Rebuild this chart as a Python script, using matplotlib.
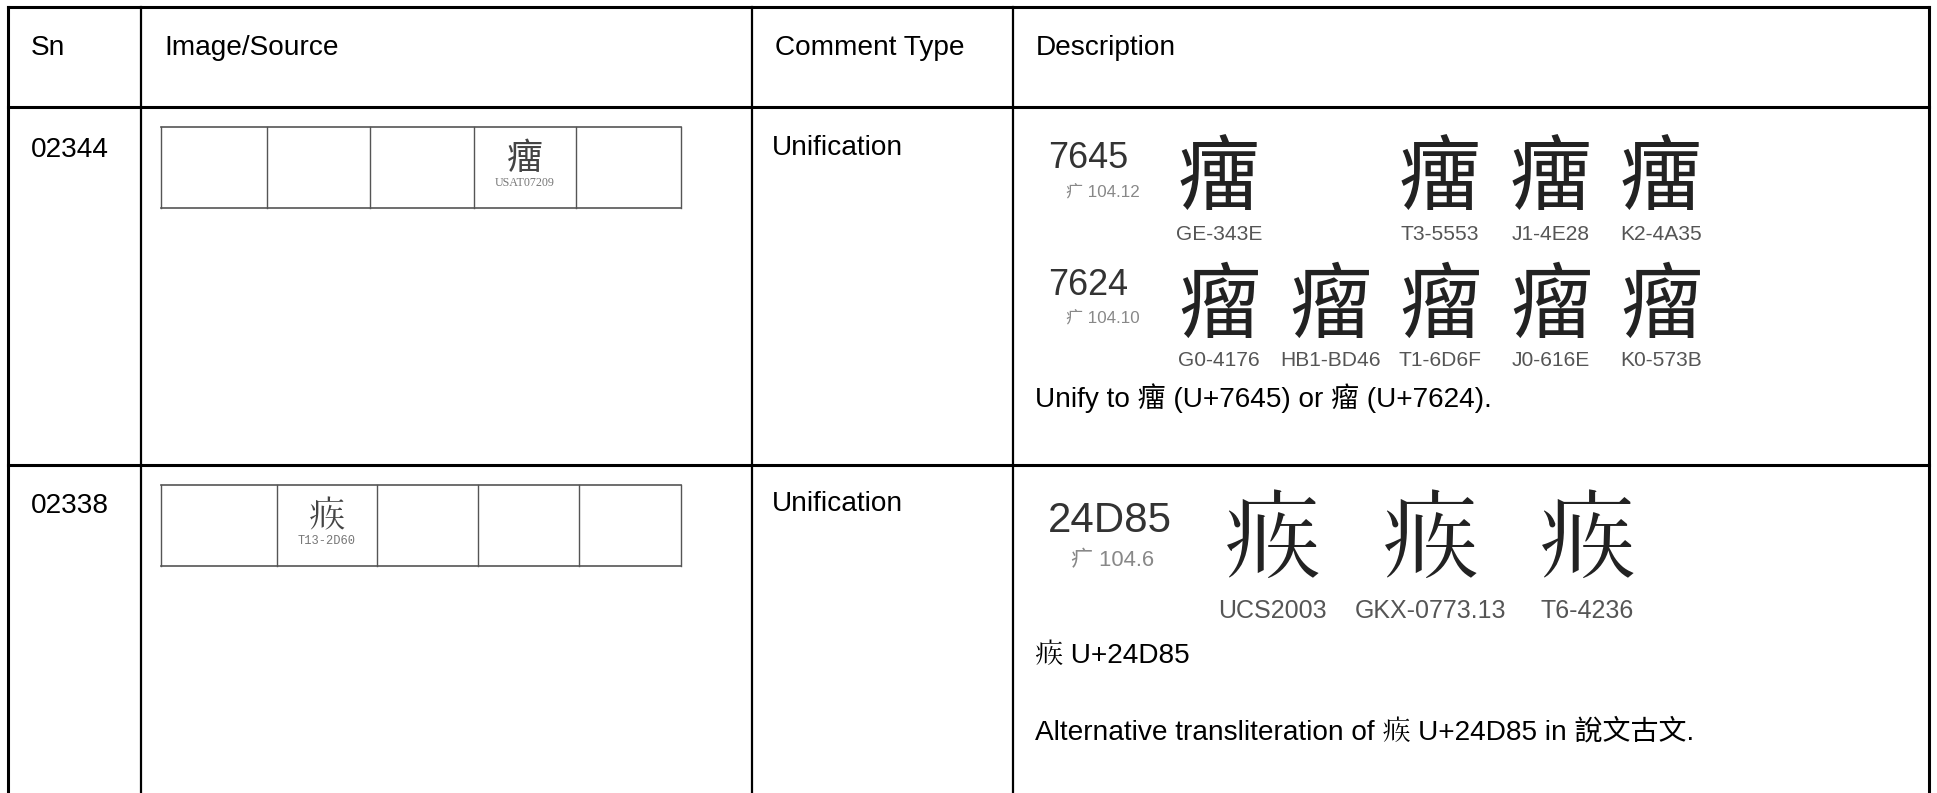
"""Unification comment table (two rows) redrawn with matplotlib"""
import matplotlib
matplotlib.use("Agg")
import matplotlib.pyplot as plt

## Table content
headers = ["Sn", "Image/Source", "Comment Type", "Description"]
sn_values = ["02344", "02338"]
comment_types = ["Unification", "Unification"]
source_glyphs = ["癅", chr(0x24D85)]
source_labels = ["USAT07209", "T13-2D60"]
source_filled_cell = [3, 1]

# row 1 description: two code points with their regional glyphs
row1_codes = ["7645", "7624"]
row1_radicals = ["疒 104.12", "疒 104.10"]
row1_chars = ["癅", "瘤"]
row1_sources = [
    ["GE-343E", "", "T3-5553", "J1-4E28", "K2-4A35"],
    ["G0-4176", "HB1-BD46", "T1-6D6F", "J0-616E", "K0-573B"],
]
row1_note = "Unify to 癅 (U+7645) or 瘤 (U+7624)."

# row 2 description
row2_code = "24D85"
row2_radical = "疒 104.6"
row2_char = chr(0x24D85)
row2_sources = ["UCS2003", "GKX-0773.13", "T6-4236"]
row2_notes = [
    chr(0x24D85) + " U+24D85",
    "Alternative transliteration of " + chr(0x24D85) + " U+24D85 in 說文古文.",
]

## Layout (pixels, figure is 1937 x 793 at 100 dpi)
W, H = 1937, 793
col_x = [8, 141, 752, 1013, 1929]
row_y = [7, 107, 465, 800]
box_x = [[161, 267, 370, 474, 576, 681], [161, 277, 377, 478, 579, 681]]
box_y = [(127, 208), (485, 566)]
row1_slot_x = [1219, 1330, 1440, 1551, 1661]
row2_slot_x = [1272, 1430, 1587]

# Cactus Classical Serif is the only installed family with U+24D85
SANS = ["Liberation Sans", "Noto Sans CJK TC", "Cactus Classical Serif", "DejaVu Sans"]
CJK = ["Noto Sans CJK TC", "Cactus Classical Serif", "DejaVu Sans"]
NARROW = ["Liberation Sans Narrow", "Liberation Sans", "DejaVu Sans"]


def px(size):
    """pixel font size to points at 100 dpi"""
    return size * 0.72


fig = plt.figure(figsize=(W / 100, H / 100), dpi=100)
ax = fig.add_axes([0, 0, 1, 1])
ax.set_xlim(0, W)
ax.set_ylim(H, 0)
ax.axis("off")

## Grid lines
for y in row_y[:3]:
    ax.plot([col_x[0], col_x[-1]], [y, y], color="black", lw=2.2, solid_capstyle="projecting")
for i, x in enumerate(col_x):
    lw = 2.2 if i in (0, len(col_x) - 1) else 1.6
    ax.plot([x, x], [row_y[0], row_y[-1]], color="black", lw=lw)

## Header
for x, label in zip(col_x[:-1], headers):
    ax.text(x + 23, 55, label, family=SANS, fontsize=px(28), va="baseline", ha="left")

## Rows: Sn, source box, comment type
baselines = [157, 513]
for r in range(2):
    ax.text(col_x[0] + 23, baselines[r], sn_values[r], family=SANS, fontsize=px(28), va="baseline")
    ax.text(col_x[2] + 20, baselines[r] - 2, comment_types[r], family=SANS, fontsize=px(28), va="baseline")
    xs = box_x[r]
    y0, y1 = box_y[r]
    ax.plot([xs[0], xs[-1]], [y0, y0], color="#555555", lw=1.2)
    ax.plot([xs[0], xs[-1]], [y1, y1], color="#555555", lw=1.2)
    for x in xs:
        ax.plot([x, x], [y0, y1], color="#555555", lw=1.0)
    c = source_filled_cell[r]
    cx = (xs[c] + xs[c + 1]) / 2
    ax.text(cx, y0 + 32, source_glyphs[r], family=CJK, fontsize=px(36), color="#444444",
            ha="center", va="center")
    label_family = ["Liberation Serif", "DejaVu Serif"] if r == 0 else ["Liberation Mono", "DejaVu Sans Mono"]
    ax.text(cx, y0 + 56, source_labels[r], family=label_family, fontsize=px(12), color="#777777",
            ha="center", va="center")

## Description, row 1
code_base = [168, 295]
radical_base = [197, 323]
glyph_center = [180, 307]
label_center = [235, 360]
for k in range(2):
    ax.text(1048, code_base[k], row1_codes[k], family=SANS, fontsize=px(36), color="#333333", va="baseline")
    ax.text(1066, radical_base[k], row1_radicals[k], family=SANS, fontsize=px(17), color="#888888",
            va="baseline")
    for x, src in zip(row1_slot_x, row1_sources[k]):
        if not src:
            continue
        ax.text(x, glyph_center[k], row1_chars[k], family=CJK, fontsize=px(82), color="#222222",
                ha="center", va="center")
        ax.text(x, label_center[k], src, family=NARROW, fontsize=px(21), color="#555555",
                ha="center", va="center")
ax.text(1035, 407, row1_note, family=SANS, fontsize=px(28), va="baseline")

## Description, row 2
ax.text(1048, 532, row2_code, family=SANS, fontsize=px(42), color="#333333", va="baseline")
ax.text(1071, 566, row2_radical, family=SANS, fontsize=px(22), color="#888888", va="baseline")
for x, src in zip(row2_slot_x, row2_sources):
    ax.text(x, 543, row2_char, family=CJK, fontsize=px(96), color="#222222",
            ha="center", va="center")
    ax.text(x, 611, src, family=NARROW, fontsize=px(25), color="#555555", ha="center", va="center")
for y, note in zip([663, 740], row2_notes):
    ax.text(1035, y, note, family=SANS, fontsize=px(28), va="baseline")

fig.savefig("out.png", dpi=100, facecolor="white")
